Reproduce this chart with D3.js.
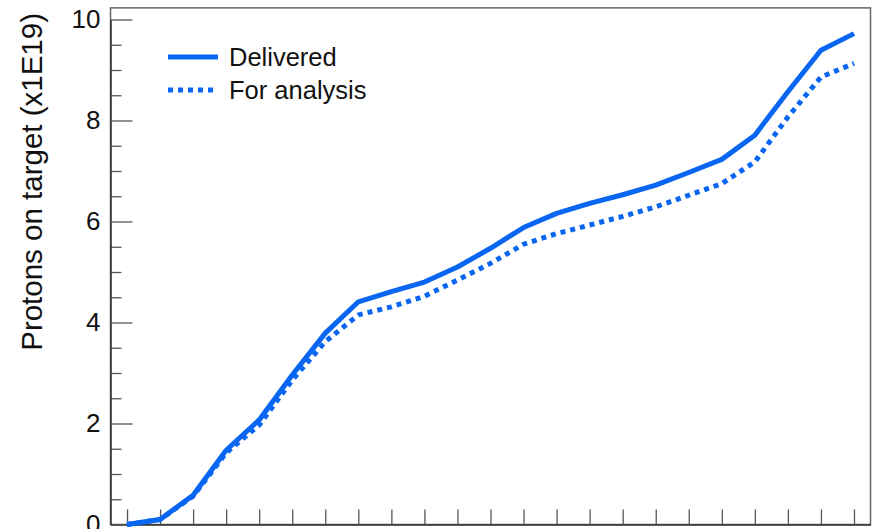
<!DOCTYPE html>
<html>
<head>
<meta charset="utf-8">
<script src="https://cdn.jsdelivr.net/npm/d3@7"></script>
<style>
  body { margin: 0; background: #fff; }
  svg { display: block; font-family: "Liberation Sans", Arial, sans-serif; }
</style>
</head>
<body>
<svg id="chart" width="875" height="529"></svg>
<script>
// bin index along x (labels are below the visible area)
const periods = [0, 1, 2, 3, 4, 5, 6, 7, 8, 9, 10, 11, 12, 13, 14, 15, 16, 17, 18, 19, 20, 21, 22];
const delivered = [0.0, 0.1, 0.58, 1.47, 2.07, 2.96, 3.79, 4.41, 4.61, 4.80, 5.10, 5.47, 5.88, 6.16, 6.36, 6.53, 6.72, 6.97, 7.23, 7.71, 8.57, 9.39, 9.72];
const forAnalysis = [0.0, 0.1, 0.56, 1.42, 1.97, 2.86, 3.62, 4.15, 4.31, 4.52, 4.84, 5.17, 5.55, 5.76, 5.93, 6.10, 6.29, 6.52, 6.75, 7.18, 8.07, 8.86, 9.13];
const yTicks = [0, 2, 4, 6, 8, 10];
const yMinor = [0.5, 1, 1.5, 2.5, 3, 3.5, 4.5, 5, 5.5, 6.5, 7, 7.5, 8.5, 9, 9.5];
const legendItems = ["Delivered", "For analysis"];

const blue = "#0866f2";
const svg = d3.select("#chart");

const x = d3.scaleLinear().domain([-0.5, 22.5]).range([110.5, 870.5]);
const y = d3.scaleLinear().domain([0, 10]).range([524.5, 19.5]);
const yTop = 10.23;

// frame
svg.append("rect")
  .attr("x", x(-0.5)).attr("y", y(yTop))
  .attr("width", x(22.5) - x(-0.5)).attr("height", y(0) - y(yTop))
  .attr("fill", "none").attr("stroke", "#666").attr("stroke-width", 1.5);

// x ticks, no labels visible
svg.append("g")
  .attr("transform", `translate(0,${y(0)})`)
  .call(d3.axisBottom(x).tickValues(periods).tickSizeInner(-15).tickSizeOuter(0).tickFormat(""))
  .call(g => g.select(".domain").attr("stroke", "#333").attr("stroke-width", 1.5))
  .call(g => g.selectAll(".tick line").attr("stroke", "#555").attr("stroke-width", 1.3));

// y axis
svg.append("g")
  .attr("transform", `translate(${x(-0.5)},0)`)
  .call(d3.axisLeft(y).tickValues(yMinor).tickSizeInner(-11).tickSizeOuter(0).tickFormat(""))
  .call(g => g.select(".domain").remove())
  .call(g => g.selectAll(".tick line").attr("stroke", "#555").attr("stroke-width", 1.3));

svg.append("g")
  .attr("transform", `translate(${x(-0.5)},0)`)
  .call(d3.axisLeft(y).tickValues(yTicks).tickSizeInner(-22).tickSizeOuter(0).tickPadding(10).tickFormat(d3.format("d")))
  .call(g => g.select(".domain").attr("stroke", "#333").attr("stroke-width", 1.5))
  .call(g => g.selectAll(".tick line").attr("stroke", "#555").attr("stroke-width", 1.3))
  .call(g => g.selectAll(".tick text").attr("font-size", 26).attr("fill", "#111")
    .attr("font-family", "Liberation Sans, Arial, sans-serif"));

svg.append("text")
  .attr("transform", "translate(42,13) rotate(-90)")
  .attr("text-anchor", "end")
  .attr("font-size", 29.5)
  .attr("fill", "#111")
  .text("Protons on target (x1E19)");

// curves
const line = d3.line().x((d, i) => x(periods[i])).y(d => y(d));

svg.append("path")
  .datum(forAnalysis)
  .attr("d", line)
  .attr("fill", "none").attr("stroke", blue).attr("stroke-width", 5)
  .attr("stroke-dasharray", "5 5");

svg.append("path")
  .datum(delivered)
  .attr("d", line)
  .attr("fill", "none").attr("stroke", blue).attr("stroke-width", 5)
  .attr("stroke-linejoin", "round");

// legend
const leg = svg.append("g").attr("transform", "translate(168,57)");
leg.selectAll("line")
  .data(legendItems)
  .join("line")
  .attr("x1", 0).attr("x2", 50)
  .attr("y1", (d, i) => i * 33).attr("y2", (d, i) => i * 33)
  .attr("stroke", blue).attr("stroke-width", 5)
  .attr("stroke-dasharray", (d, i) => i ? "5 5" : null);
leg.selectAll("text")
  .data(legendItems)
  .join("text")
  .attr("x", 61).attr("y", (d, i) => i * 33 + 9)
  .attr("font-size", 25.5).attr("fill", "#111")
  .text(d => d);
</script>
</body>
</html>
